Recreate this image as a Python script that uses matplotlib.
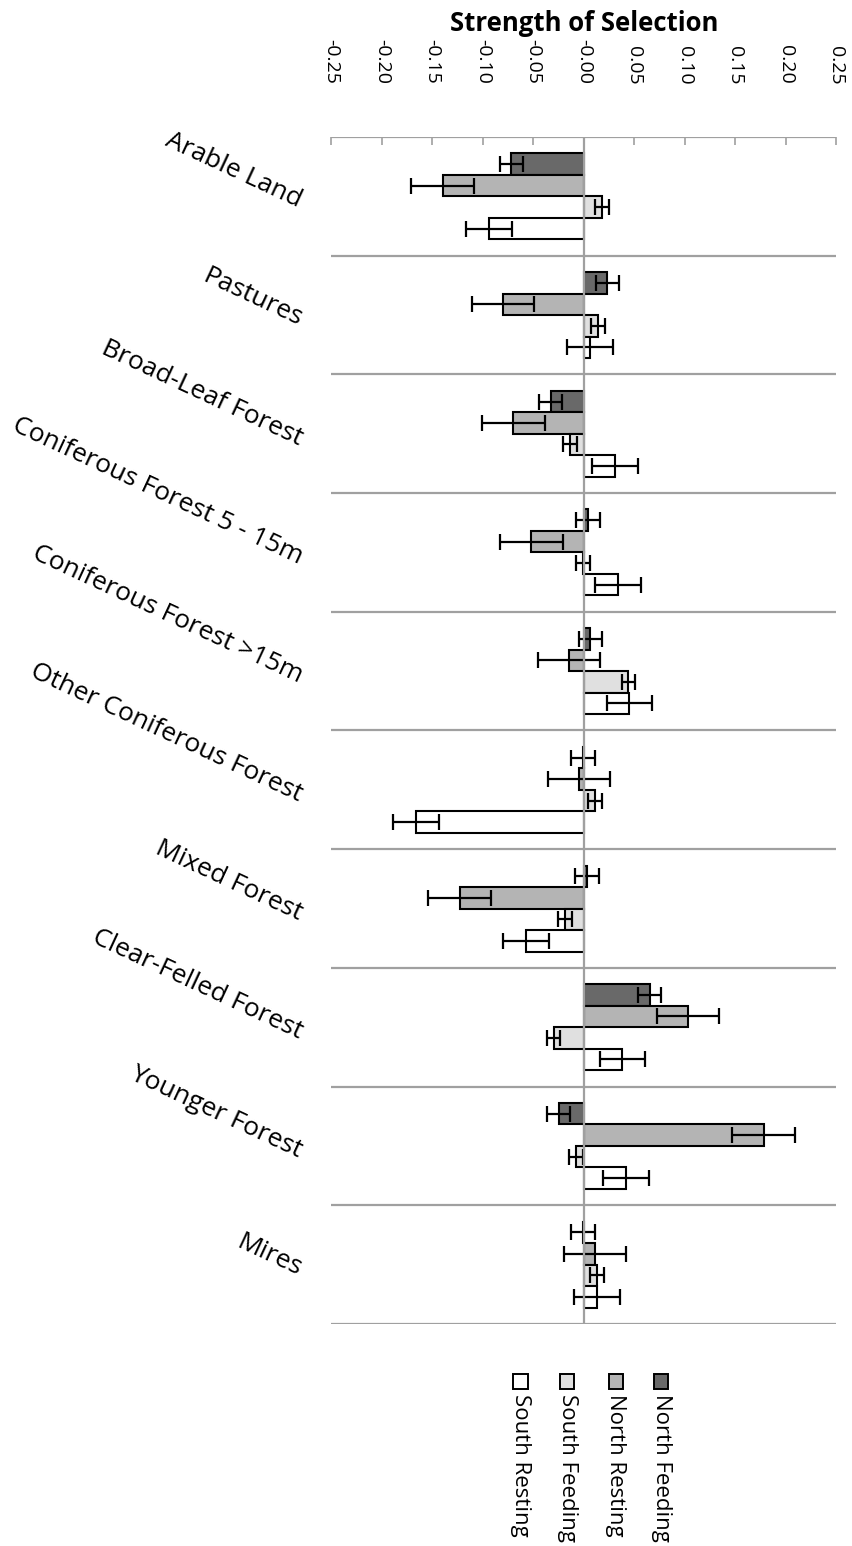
import numpy as np
import matplotlib
matplotlib.use("Agg")
import matplotlib.pyplot as plt
from matplotlib.patches import Rectangle

plt.rcParams['font.family'] = ['Open Sans', 'DejaVu Sans']

# habitat categories (top to bottom)
habitats = ["Arable Land", "Pastures", "Broad-Leaf Forest",
            "Coniferous Forest 5 - 15m", "Coniferous Forest >15m",
            "Other Coniferous Forest", "Mixed Forest",
            "Clear-Felled Forest", "Younger Forest", "Mires"]

series = ["North Feeding", "North Resting", "South Feeding", "South Resting"]
colors = ["#696969", "#b4b4b4", "#e0e0e0", "#ffffff"]

north_feeding = [-0.072, 0.023, -0.033, 0.004, 0.006, -0.001, 0.003, 0.065, -0.025, -0.0005]
north_resting = [-0.140, -0.080, -0.070, -0.052, -0.015, -0.005, -0.123, 0.103, 0.178, 0.011]
south_feeding = [0.018, 0.014, -0.014, -0.0005, 0.044, 0.011, -0.019, -0.030, -0.008, 0.013]
south_resting = [-0.094, 0.006, 0.031, 0.034, 0.045, -0.166, -0.057, 0.038, 0.042, 0.013]

nf_err = [0.0115, 0.0114, 0.0112, 0.0115, 0.0114, 0.0119, 0.0117, 0.0112, 0.0116, 0.0119]
nr_err = [0.031, 0.031, 0.031, 0.031, 0.031, 0.031, 0.031, 0.031, 0.031, 0.031]
sf_err = [0.0066, 0.007, 0.0068, 0.0069, 0.0068, 0.0069, 0.007, 0.0066, 0.0066, 0.0072]
sr_err = [0.0226, 0.023, 0.0226, 0.0226, 0.0225, 0.0228, 0.0228, 0.0224, 0.0228, 0.0226]

values = [north_feeding, north_resting, south_feeding, south_resting]
errors = [nf_err, nr_err, sf_err, sr_err]

fig = plt.figure(figsize=(8.53, 15.46), dpi=100)
ax = fig.add_axes([0.3886, 0.1436, 0.592, 0.7678])

y = np.arange(len(habitats))
h = 0.181
offsets = [-1.5 * h, -0.5 * h, 0.5 * h, 1.5 * h]

for vals, errs, col, off in zip(values, errors, colors, offsets):
    ax.barh(y + off, vals, height=h, color=col, edgecolor="black", linewidth=1.5,
            xerr=errs, error_kw=dict(ecolor="black", elinewidth=1.6, capsize=5.5, capthick=1.6),
            zorder=3)

ax.set_xlim(-0.25, 0.25)
ax.set_ylim(len(habitats) - 0.5, -0.5)

# category separators and zero line
for b in np.arange(-0.5, len(habitats) + 0.5, 1.0):
    ax.axhline(b, color="#a0a0a0", lw=1.6, zorder=1)
ax.axvline(0, color="#a0a0a0", lw=1.6, zorder=4)

for s in ax.spines.values():
    s.set_visible(False)

ax.xaxis.tick_top()
ticks = np.arange(-0.25, 0.2501, 0.05)
ax.set_xticks(ticks)
ax.set_xticklabels(["%.2f" % t for t in ticks], rotation=-90, fontsize=14)
ax.tick_params(axis="x", direction="in", length=6, color="#a0a0a0", width=1.2, pad=38)

ax.set_yticks([])

ax.set_title("Strength of Selection", fontsize=18.5, fontweight="bold", pad=76)

# rotated category labels
for i, name in enumerate(habitats):
    ax.annotate(name, xy=(0, i), xycoords=("axes fraction", "data"),
                xytext=(-22, -4), textcoords="offset points",
                rotation=-25, rotation_mode="anchor", ha="right", va="center",
                fontsize=19)

# legend, rotated like the chart
lx = [0.775, 0.722, 0.665, 0.610]
for name, col, x0 in zip(series, colors, lx):
    fig.patches.append(Rectangle((x0 - 0.0085, 0.1015), 0.017, 0.0095, transform=fig.transFigure,
                                 facecolor=col, edgecolor="black", linewidth=1.4))
    fig.text(x0, 0.0985, name, rotation=-90, ha="center", va="top", fontsize=16)

fig.savefig("out.png", dpi=100)
